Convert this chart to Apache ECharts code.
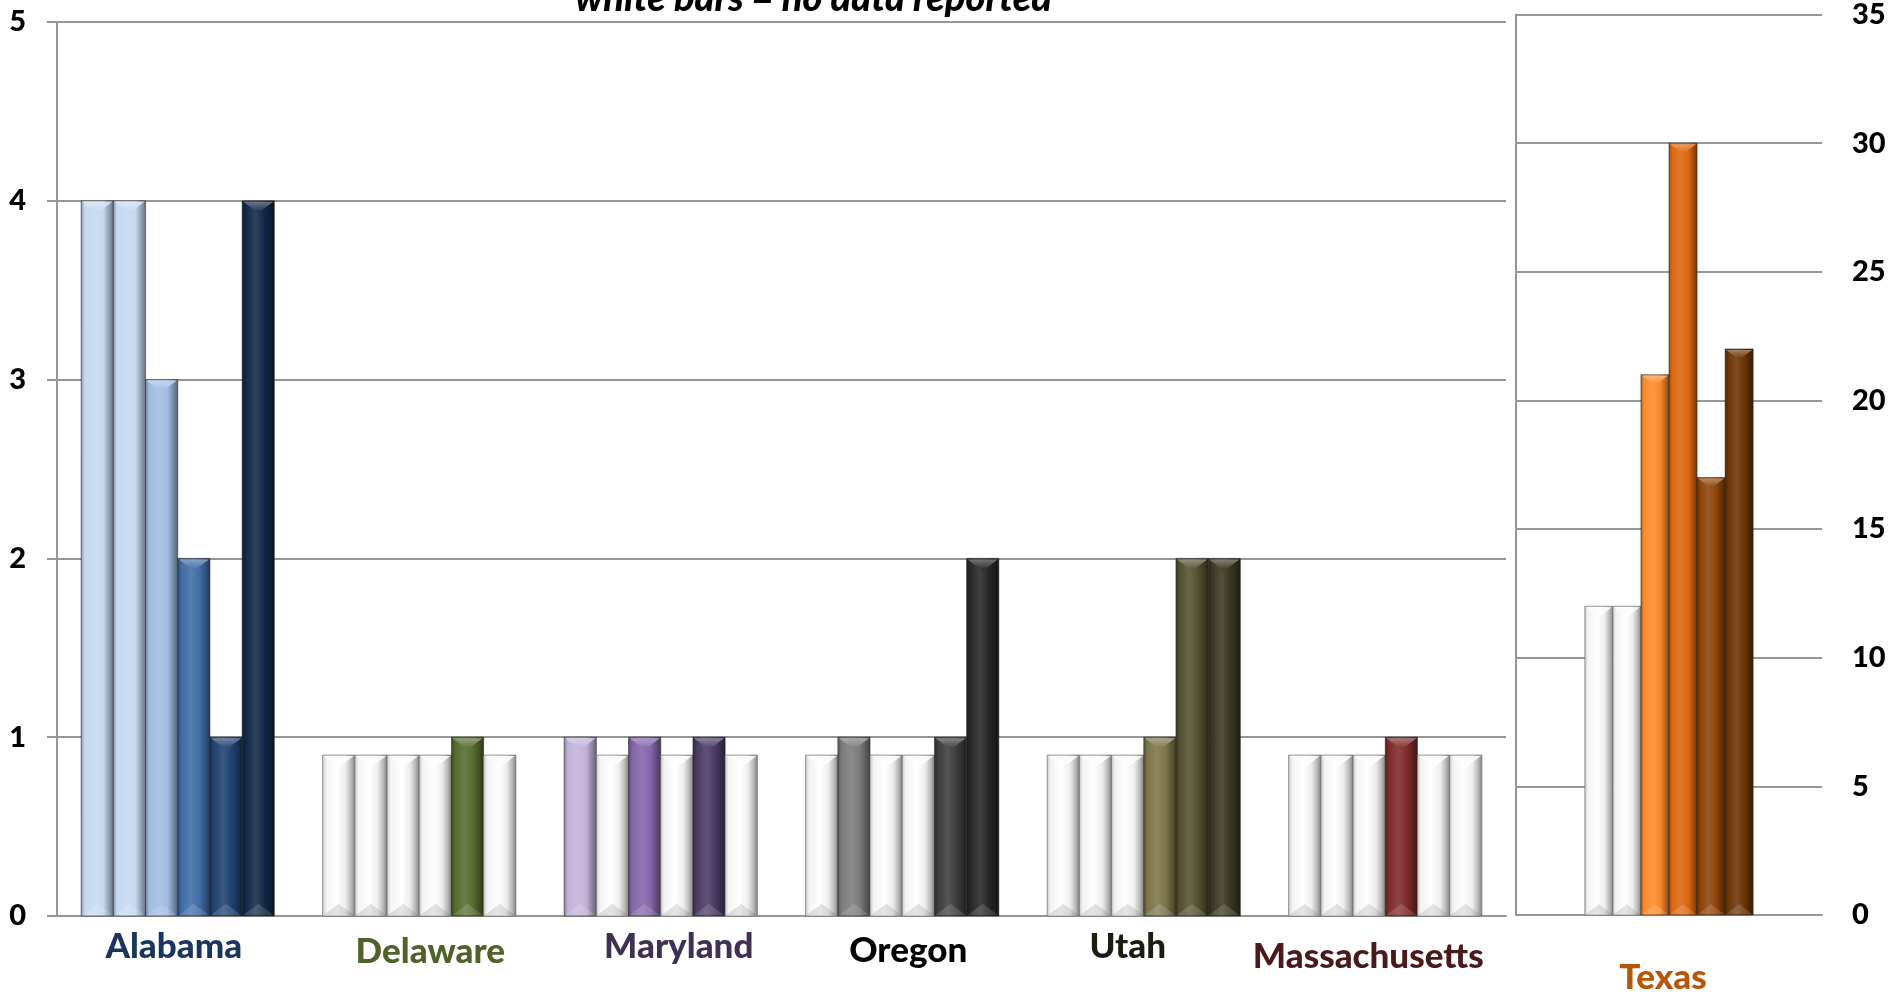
<!DOCTYPE html>
<html>
<head>
<meta charset="utf-8">
<script src="https://cdn.jsdelivr.net/npm/echarts@6/dist/echarts.min.js"></script>
<style>
  html, body { margin: 0; padding: 0; background: #ffffff; }
  #chart { width: 1889px; height: 995px; }
</style>
</head>
<body>
<div id="chart"></div>
<script>
// States shown; the last one (Texas) uses its own panel and scale.
const states = ['Alabama', 'Delaware', 'Maryland', 'Oregon', 'Utah', 'Massachusetts', 'Texas'];

// Six reporting periods, one value per state. null = no data reported.
const period1 = [4, null, 1, null, null, null, null];
const period2 = [4, null, null, 1, null, null, null];
const period3 = [3, null, 1, null, null, null, 21];
const period4 = [2, null, null, null, 1, 1, 30];
const period5 = [1, 1, 1, 1, 2, null, 17];
const period6 = [4, null, null, 2, 2, null, 22];
const periods = [period1, period2, period3, period4, period5, period6];

// Height of the white "no data" placeholder bars on each scale.
const noDataLeft = 0.9;
const noDataRight = 12;

// Left axis ticks (0..5) and right axis ticks (0..35).
const leftTicks = [0, 1, 2, 3, 4, 5];
const rightTicks = [0, 5, 10, 15, 20, 25, 30, 35];

// Colour shades per state, one per period.
const shades = {
  Alabama:       ['#c6d9f1', '#c6d9f1', '#a0bce1', '#3f6ca5', '#1f416f', '#112846'],
  Delaware:      ['#ffffff', '#ffffff', '#ffffff', '#ffffff', '#566a2d', '#ffffff'],
  Maryland:      ['#c3b3da', '#ffffff', '#8466a9', '#ffffff', '#4a3a65', '#ffffff'],
  Oregon:        ['#ffffff', '#7b7b7b', '#ffffff', '#ffffff', '#3d3d3d', '#262626'],
  Utah:          ['#ffffff', '#ffffff', '#ffffff', '#7b7548', '#545030', '#3a3721'],
  Massachusetts: ['#ffffff', '#ffffff', '#ffffff', '#7d2a2a', '#ffffff', '#ffffff'],
  Texas:         ['#ffffff', '#ffffff', '#fb8b2b', '#dc680f', '#8c440a', '#6a3406']
};
const labelColors = {
  Alabama: '#1b365d', Delaware: '#4f6228', Maryland: '#403152', Oregon: '#000000',
  Utah: '#1d1b10', Massachusetts: '#4a1a1a', Texas: '#b65708'
};
// Small nudges of each state name (dx, dy in px).
const labelNudge = {
  Alabama: [-4, 0], Delaware: [11, 5], Maryland: [18, 0], Oregon: [6, 4],
  Utah: [-16, -2], Massachusetts: [-17, 10], Texas: [-6, 0]
};

const FONT = 'Lato';
const WEIGHT = 900;
const GRID_COLOR = '#969696';

function hexToRgb(h) {
  const n = parseInt(h.slice(1), 16);
  return [(n >> 16) & 255, (n >> 8) & 255, n & 255];
}
function mix(h, target, t) {
  const a = hexToRgb(h), b = hexToRgb(target);
  const c = a.map((v, i) => Math.round(v + (b[i] - v) * t));
  return 'rgb(' + c.join(',') + ')';
}

// Rows for the custom series: [category, period slot, height, reported, state]
function buildRows(stateIdxList, placeholder) {
  const rows = [];
  stateIdxList.forEach((s, cat) => {
    periods.forEach((p, slot) => {
      const v = p[s];
      rows.push([cat, slot, v == null ? placeholder : v, v == null ? 0 : 1, s]);
    });
  });
  return rows;
}

function makeRender(gapRatio) {
  const n = periods.length;
  return function (params, api) {
    const cat = api.value(0), slot = api.value(1), val = api.value(2);
    const rep = api.value(3), sIdx = api.value(4);
    const band = api.size([1, 0])[0];
    const groupW = band * (1 - gapRatio);
    const w = groupW / n;
    const base = api.coord([cat, 0]);
    const top = api.coord([cat, val]);
    const x = base[0] - groupW / 2 + slot * w;
    const y = top[1];
    const h = base[1] - top[1];
    const c = rep ? shades[states[sIdx]][slot] : '#ffffff';

    let stops, chevTop, chevBot, stroke;
    if (rep) {
      stops = [
        { offset: 0, color: mix(c, '#000000', 0.35) },
        { offset: 0.12, color: c },
        { offset: 0.42, color: mix(c, '#ffffff', 0.12) },
        { offset: 0.68, color: c },
        { offset: 0.88, color: mix(c, '#000000', 0.3) },
        { offset: 1, color: mix(c, '#000000', 0.5) }
      ];
      chevTop = mix(c, '#ffffff', 0.4);
      chevBot = 'rgba(255,255,255,0.14)';
      stroke = 'rgba(40,40,40,0.55)';
    } else {
      stops = [
        { offset: 0, color: '#c4c4c4' },
        { offset: 0.12, color: '#f3f3f3' },
        { offset: 0.45, color: '#ffffff' },
        { offset: 0.7, color: '#eeeeee' },
        { offset: 0.88, color: '#b5b5b5' },
        { offset: 1, color: '#7c7c7c' }
      ];
      chevTop = '#fafafa';
      chevBot = 'rgba(0,0,0,0.10)';
      stroke = 'rgba(110,110,110,0.7)';
    }
    const d = Math.min(w * 0.38, h / 2);
    return {
      type: 'group',
      children: [
        {
          type: 'rect',
          shape: { x: x, y: y, width: w, height: h },
          style: {
            fill: new echarts.graphic.LinearGradient(0, 0, 1, 0, stops),
            stroke: stroke, lineWidth: 1
          }
        },
        {
          type: 'polygon',
          shape: { points: [[x + 1, y + 1], [x + w - 1, y + 1], [x + w / 2, y + d]] },
          style: {
            fill: new echarts.graphic.LinearGradient(0, 0, 0, 1, [
              { offset: 0, color: chevTop },
              { offset: 1, color: rep ? c : '#ffffff' }
            ]),
            opacity: 0.9
          }
        },
        {
          type: 'polygon',
          shape: { points: [[x + 1, y + h - 1], [x + w - 1, y + h - 1], [x + w / 2, y + h - d]] },
          style: { fill: chevBot }
        }
      ]
    };
  };
}

function richFor(list) {
  const rich = {};
  list.forEach((name, i) => {
    const [dx, dy] = labelNudge[name];
    rich['s' + i] = {
      color: labelColors[name], fontFamily: FONT, fontWeight: WEIGHT, fontSize: 35,
      padding: [Math.max(dy, 0), dx < 0 ? -2 * dx : 0, 0, dx > 0 ? 2 * dx : 0]
    };
  });
  return rich;
}

const leftStates = states.slice(0, 6);
const rightStates = states.slice(6);
const axisLineStyle = { color: GRID_COLOR, width: 2 };
const tickLabel = { fontFamily: FONT, fontWeight: WEIGHT, fontSize: 29, color: '#000000' };

const option = {
  animation: false,
  backgroundColor: '#ffffff',
  graphic: [{
    type: 'text',
    x: 806, y: -1.5,
    style: {
      text: '*white bars = no data reported',
      font: 'italic 900 38px Lato',
      fill: '#000000',
      align: 'center',
      verticalAlign: 'middle'
    }
  }],
  grid: [
    { left: 57, right: 383, top: 22, bottom: 79 },
    { left: 1516, right: 67, top: 12, bottom: 72 }
  ],
  xAxis: [
    {
      gridIndex: 0, type: 'category', data: leftStates,
      axisLine: { lineStyle: axisLineStyle }, axisTick: { show: false },
      axisLabel: {
        margin: 13, interval: 0,
        formatter: (v, i) => '{s' + i + '|' + v + '}',
        rich: richFor(leftStates)
      }
    },
    {
      gridIndex: 1, type: 'category', data: rightStates,
      axisLine: { lineStyle: axisLineStyle }, axisTick: { show: false },
      axisLabel: {
        margin: 45, interval: 0,
        formatter: (v, i) => '{s' + i + '|' + v + '}',
        rich: richFor(rightStates)
      }
    }
  ],
  yAxis: [
    {
      gridIndex: 0, type: 'value',
      min: leftTicks[0], max: leftTicks[leftTicks.length - 1], interval: leftTicks[1] - leftTicks[0],
      axisLine: { show: true, lineStyle: axisLineStyle },
      axisTick: { show: true, length: 10, lineStyle: axisLineStyle },
      splitLine: { lineStyle: axisLineStyle },
      axisLabel: Object.assign({ margin: 31 }, tickLabel)
    },
    {
      gridIndex: 1, type: 'value', position: 'right',
      min: rightTicks[0], max: rightTicks[rightTicks.length - 1], interval: rightTicks[1] - rightTicks[0],
      axisLine: { show: false }, axisTick: { show: false },
      splitLine: { lineStyle: axisLineStyle },
      axisLabel: Object.assign({ margin: 30 }, tickLabel)
    },
    {
      gridIndex: 1, type: 'value', position: 'left',
      min: rightTicks[0], max: rightTicks[rightTicks.length - 1], interval: rightTicks[1] - rightTicks[0],
      axisLine: { show: true, lineStyle: axisLineStyle }, axisTick: { show: false },
      axisLabel: { show: false }, splitLine: { show: false }
    }
  ],
  series: [
    {
      type: 'custom', xAxisIndex: 0, yAxisIndex: 0,
      renderItem: makeRender(0.2),
      encode: { x: 0, y: 2 },
      data: buildRows([0, 1, 2, 3, 4, 5], noDataLeft)
    },
    {
      type: 'custom', xAxisIndex: 1, yAxisIndex: 1,
      renderItem: makeRender(0.45),
      encode: { x: 0, y: 2 },
      data: buildRows([6], noDataRight)
    }
  ]
};

const chart = echarts.init(document.getElementById('chart'), null, { renderer: 'canvas' });
chart.setOption(option);
</script>
</body>
</html>
